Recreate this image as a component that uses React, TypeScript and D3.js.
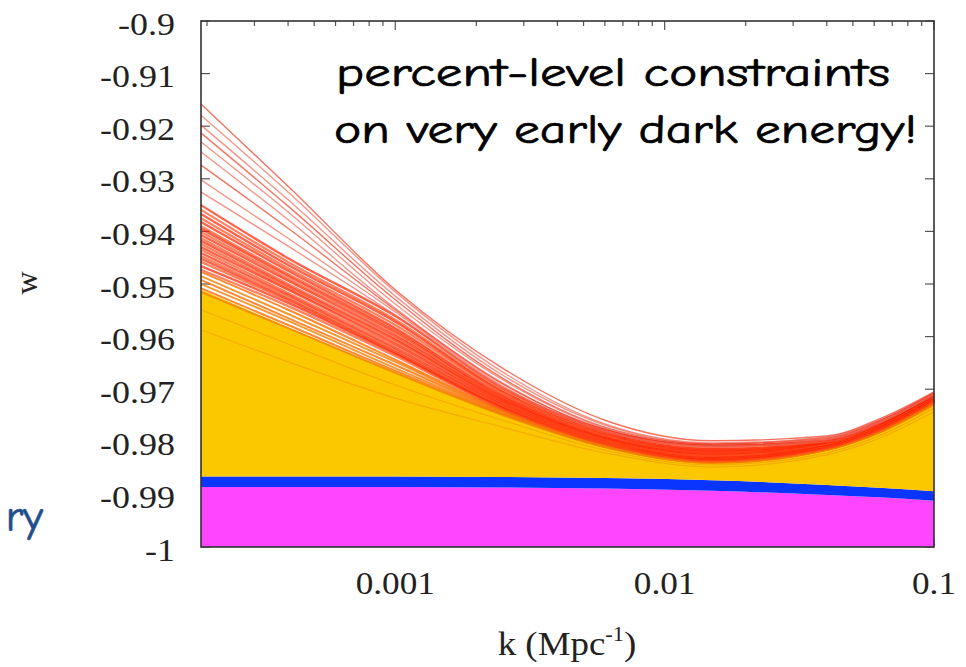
import React from 'react'
import * as d3 from 'd3'

// k grid (Mpc^-1) the curves are sampled on
const kGrid = [1.9e-4, 4e-4, 1e-3, 2.5e-3, 6e-3, 0.015, 0.04, 0.065, 0.1]

// filled bands
const magentaTop = [-0.9886, -0.9886, -0.9886, -0.9887, -0.9889, -0.9893, -0.9901, -0.9906, -0.9912]
const blueTop = [-0.9866, -0.9866, -0.9866, -0.9867, -0.9869, -0.9873, -0.9882, -0.9888, -0.9894]
const yellowTop = [-0.9511, -0.9582, -0.9667, -0.9747, -0.981, -0.984, -0.9815, -0.9778, -0.9728]

// the few high curves on top
const stragglerLines = [
  [-0.9158, -0.9314, -0.9511, -0.966, -0.9759, -0.9798, -0.9789, -0.9753, -0.9705],
  [-0.9179, -0.9325, -0.9515, -0.9667, -0.9766, -0.9802, -0.9792, -0.9756, -0.9707],
  [-0.9198, -0.934, -0.9523, -0.9673, -0.9768, -0.9804, -0.9791, -0.9756, -0.9709],
  [-0.9213, -0.9352, -0.953, -0.9679, -0.9772, -0.9804, -0.9794, -0.9757, -0.9707],
  [-0.923, -0.9363, -0.9538, -0.9682, -0.9774, -0.9806, -0.9796, -0.976, -0.9711],
  [-0.9249, -0.9378, -0.9546, -0.9688, -0.9778, -0.9808, -0.9794, -0.9758, -0.9709],
  [-0.9274, -0.9394, -0.9549, -0.969, -0.9776, -0.9806, -0.9798, -0.9762, -0.9713],
  [-0.9302, -0.9413, -0.9553, -0.9694, -0.9779, -0.981, -0.9796, -0.976, -0.9711],
  [-0.9325, -0.9428, -0.9559, -0.9696, -0.9781, -0.9808, -0.98, -0.9761, -0.9709],
]

// the dense red bundle
const denseLines = [
  [-0.935, -0.9451, -0.9561, -0.9698, -0.9778, -0.9808, -0.9798, -0.9761, -0.9711],
  [-0.9359, -0.9458, -0.9568, -0.9702, -0.9781, -0.9812, -0.98, -0.9763, -0.9713],
  [-0.9367, -0.9464, -0.9572, -0.9705, -0.9783, -0.9814, -0.9802, -0.9765, -0.9715],
  [-0.9375, -0.947, -0.9578, -0.9707, -0.9785, -0.9816, -0.98, -0.9763, -0.9713],
  [-0.9382, -0.9475, -0.9584, -0.9711, -0.9787, -0.9817, -0.9802, -0.9765, -0.9715],
  [-0.939, -0.9481, -0.9587, -0.9713, -0.9789, -0.9819, -0.9804, -0.9767, -0.9717],
  [-0.9395, -0.9485, -0.9591, -0.9715, -0.9791, -0.9819, -0.9804, -0.9766, -0.9715],
  [-0.9401, -0.949, -0.9595, -0.9717, -0.9791, -0.9821, -0.9806, -0.9768, -0.9717],
  [-0.9407, -0.9494, -0.9599, -0.9719, -0.9793, -0.9823, -0.9804, -0.9768, -0.9719],
  [-0.9413, -0.95, -0.9603, -0.9721, -0.9795, -0.9825, -0.9806, -0.9768, -0.9717],
  [-0.9418, -0.9504, -0.9606, -0.9722, -0.9795, -0.9825, -0.9808, -0.977, -0.9719],
  [-0.9424, -0.9508, -0.961, -0.9724, -0.9797, -0.9827, -0.9806, -0.977, -0.9721],
  [-0.943, -0.9511, -0.9614, -0.9726, -0.9798, -0.9829, -0.9808, -0.977, -0.9719],
  [-0.9435, -0.9517, -0.9618, -0.9728, -0.9798, -0.9829, -0.981, -0.9772, -0.9721],
  [-0.9441, -0.9521, -0.9622, -0.973, -0.98, -0.9831, -0.9808, -0.977, -0.9719],
  [-0.9447, -0.9525, -0.9625, -0.9732, -0.98, -0.9833, -0.981, -0.9772, -0.9721],
  [-0.9452, -0.9529, -0.9629, -0.9734, -0.9802, -0.9833, -0.9811, -0.9773, -0.9722],
  [-0.9458, -0.9532, -0.9631, -0.9734, -0.9802, -0.9835, -0.981, -0.9772, -0.9721],
  [-0.9466, -0.9536, -0.9633, -0.9736, -0.9804, -0.9835, -0.9811, -0.9773, -0.9722],
  [-0.9473, -0.9542, -0.9637, -0.9738, -0.9804, -0.9837, -0.9813, -0.9775, -0.9724],
]

// orange curves sitting on the yellow edge
const orangeLines = [
  [-0.9477, -0.9549, -0.9644, -0.974, -0.9806, -0.9837, -0.9813, -0.9775, -0.9724],
  [-0.9485, -0.9557, -0.9648, -0.9741, -0.9806, -0.9838, -0.9813, -0.9776, -0.9726],
  [-0.9492, -0.9565, -0.9654, -0.9743, -0.9808, -0.9838, -0.9815, -0.9777, -0.9726],
  [-0.95, -0.957, -0.966, -0.9745, -0.9808, -0.9838, -0.9815, -0.9778, -0.9728],
  [-0.9508, -0.9578, -0.9665, -0.9747, -0.981, -0.984, -0.9815, -0.9778, -0.9728],
  [-0.9515, -0.9584, -0.9669, -0.9749, -0.981, -0.984, -0.9815, -0.9779, -0.973],
]

// faint curves inside the yellow band
const innerLines = [
  [-0.9549, -0.9614, -0.9692, -0.9759, -0.9816, -0.9844, -0.9821, -0.9785, -0.9736],
  [-0.9587, -0.9648, -0.9717, -0.9772, -0.9821, -0.9848, -0.9825, -0.979, -0.9743],
]

const yTicks = [-0.9, -0.91, -0.92, -0.93, -0.94, -0.95, -0.96, -0.97, -0.98, -0.99, -1]
const yTickLabels = ['-0.9', '-0.91', '-0.92', '-0.93', '-0.94', '-0.95', '-0.96', '-0.97', '-0.98', '-0.99', '-1']
const xTicks = [0.001, 0.01, 0.1]
const xTickLabels = ['0.001', '0.01', '0.1']

const width = 966
const height = 667
const margin = { top: 21, right: 32, bottom: 120, left: 201 }

export default function App() {
  const x = d3.scaleLog().domain([1.9e-4, 0.1]).range([margin.left, width - margin.right])
  const y = d3.scaleLinear().domain([-1, -0.9]).range([height - margin.bottom, margin.top])

  const left = margin.left
  const right = width - margin.right
  const top = margin.top
  const bottom = height - margin.bottom

  const line = d3.line<number>()
    .x((_, i) => x(kGrid[i]))
    .y((d) => y(d))
    .curve(d3.curveMonotoneX)

  const band = (lo: number[], hi: number[]) =>
    d3.area<number>()
      .x((_, i) => x(kGrid[i]))
      .y0((_, i) => y(lo[i]))
      .y1((_, i) => y(hi[i]))
      .curve(d3.curveMonotoneX)(kGrid)

  const floor = kGrid.map(() => -1)
  const minorTicks = x.ticks()
  const serif = "'Liberation Serif', 'Times New Roman', serif"
  const comic = "'Comic Sans MS', 'Comic Neue', 'Noto Sans', sans-serif"

  return (
    <svg width={width} height={height} style={{ position: 'fixed', left: 0, top: 0, background: '#fff' }}>
      <style>{'body{margin:0}'}</style>
      <rect x={0} y={0} width={width} height={height} fill="#fff" />

      {/* ticks, drawn under the data */}
      <g stroke="#555" strokeWidth={1.2}>
        {yTicks.map((t) => (
          <g key={'yt' + t}>
            <line x1={left} x2={left + 9} y1={y(t)} y2={y(t)} />
            <line x1={right - 9} x2={right} y1={y(t)} y2={y(t)} />
          </g>
        ))}
        {minorTicks.map((t) => {
          const major = xTicks.some((m) => Math.abs(m - t) / m < 1e-6)
          const len = major ? 9 : 5
          return (
            <g key={'xt' + t}>
              <line x1={x(t)} x2={x(t)} y1={top} y2={top + len} />
              <line x1={x(t)} x2={x(t)} y1={bottom} y2={bottom - len} />
            </g>
          )
        })}
      </g>

      {/* bands */}
      <path d={band(floor, magentaTop) || ''} fill="#ff45ff" />
      <path d={band(magentaTop, blueTop) || ''} fill="#0a35ff" />
      <path d={band(blueTop, yellowTop) || ''} fill="#fbc800" />

      <g fill="none">
        {innerLines.map((d, i) => (
          <path key={'in' + i} d={line(d) || ''} stroke="#e88a00" strokeOpacity={0.45} strokeWidth={1.2} />
        ))}
        {orangeLines.map((d, i) => (
          <path key={'or' + i} d={line(d) || ''} stroke={i % 2 ? '#f08000' : '#ff6a00'} strokeOpacity={0.8} strokeWidth={2} />
        ))}
        {denseLines.map((d, i) => (
          <path key={'de' + i} d={line(d) || ''} stroke={i % 2 ? '#ff4d1a' : '#ff2000'} strokeOpacity={0.7} strokeWidth={2.3} />
        ))}
        {stragglerLines.map((d, i) => (
          <path key={'st' + i} d={line(d) || ''} stroke={i % 3 ? '#f05a48' : '#ee2a10'} strokeOpacity={0.65} strokeWidth={1.4} />
        ))}
      </g>

      {/* frame */}
      <rect x={left} y={top} width={right - left} height={bottom - top} fill="none" stroke="#333" strokeWidth={1.6} />

      {/* y tick labels */}
      {yTicks.map((t, i) => (
        <text
          key={'yl' + t}
          transform={`translate(175,${y(t) + 13.5}) scale(1.16,1)`}
          textAnchor="end"
          fontFamily={serif}
          fontSize={31}
          fill="#222"
        >
          {yTickLabels[i]}
        </text>
      ))}

      {/* x tick labels */}
      {xTicks.map((t, i) => (
        <text
          key={'xl' + t}
          transform={`translate(${x(t)},594) scale(1.1,1)`}
          textAnchor="middle"
          fontFamily={serif}
          fontSize={32}
          fill="#222"
        >
          {xTickLabels[i]}
        </text>
      ))}

      {/* axis titles */}
      <text
        transform="translate(567,655) scale(1.12,1)"
        textAnchor="middle"
        fontFamily={serif}
        fontSize={33}
        fill="#222"
      >
        k (Mpc
        <tspan fontSize={20} dy={-14}>-1</tspan>
        <tspan dy={14}>)</tspan>
      </text>
      <text
        transform="translate(37,283) rotate(-90)"
        textAnchor="middle"
        fontFamily={serif}
        fontSize={32}
        fill="#222"
      >
        w
      </text>

      {/* annotation */}
      <g fontFamily={comic} fontSize={40} fill="#000" stroke="#000" strokeWidth={0.7}>
        <text x={336} y={86} textLength={554} lengthAdjust="spacingAndGlyphs">
          percent-level constraints
        </text>
        <text x={334} y={143} textLength={583} lengthAdjust="spacingAndGlyphs">
          on very early dark energy!
        </text>
      </g>

      {/* cut-off slide text */}
      <text x={43} y={531} textAnchor="end" fontFamily={comic} fontSize={44} fill="#1f4e8c" stroke="#1f4e8c" strokeWidth={0.7}>
        ry
      </text>
    </svg>
  )
}
